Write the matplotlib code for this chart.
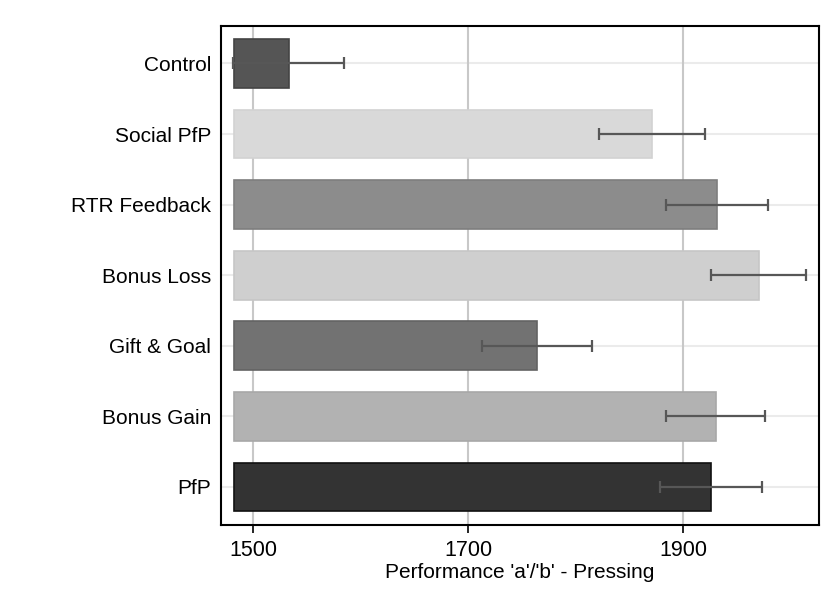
import numpy as np
import matplotlib.pyplot as plt

plt.rcParams['font.family'] = ['Liberation Sans', 'DejaVu Sans']

# treatment groups, top to bottom
groupes = ['Control', 'Social PfP', 'RTR Feedback', 'Bonus Loss',
           'Gift & Goal', 'Bonus Gain', 'PfP']
moyennes = [1533, 1871, 1931, 1970, 1764, 1930, 1926]
ic = [51.5, 49.5, 47.5, 44, 51, 46, 47.6]
base = 1482

couleurs = ['#555555', '#d9d9d9', '#8c8c8c', '#cfcfcf',
            '#727272', '#b2b2b2', '#333333']
bords = ['#444444', '#d2d2d2', '#7e7e7e', '#c6c6c6',
         '#636363', '#a8a8a8', '#111111']

fig = plt.figure(figsize=(8.28, 6.05), dpi=100)
ax = fig.add_axes([0.2665, 0.1322, 0.7226, 0.8248])

y = np.arange(len(groupes))

for yi in y:
    ax.axhline(yi, color='#ebebeb', lw=1.5, zorder=0)
for xt in [1500, 1700, 1900]:
    ax.axvline(xt, color='#c8c8c8', lw=1.5, zorder=0)

ax.barh(y, np.array(moyennes) - base, left=base, height=0.69,
        color=couleurs, edgecolor=bords, lw=1.2, zorder=2)
ax.errorbar(moyennes, y, xerr=ic, fmt='none', ecolor='#575757',
            elinewidth=1.6, capsize=4.2, capthick=1.6, zorder=3)

ax.set_xlim(1469.7, 2026.2)
ax.set_ylim(6.54, -0.53)
ax.set_xticks([1500, 1700, 1900])
ax.set_yticks(y)
ax.set_yticklabels(groupes)
ax.tick_params(axis='y', length=0, pad=7, labelsize=15)
ax.tick_params(axis='x', length=6, width=1.2, pad=5, labelsize=15.5)
ax.set_xlabel("Performance 'a'/'b' - Pressing", fontsize=15, labelpad=1.5)

for s in ax.spines.values():
    s.set_color('black')
    s.set_linewidth(1.5)

fig.savefig('out.png', dpi=100)
